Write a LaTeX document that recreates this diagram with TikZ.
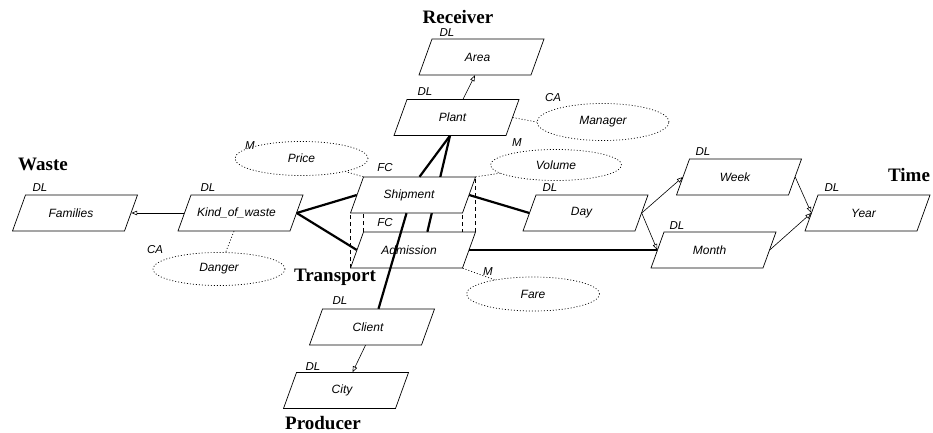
\documentclass[tikz,border=0pt]{standalone}
\usepackage{fontspec}
\setmainfont{Liberation Serif}
\setsansfont{Liberation Sans}
\usetikzlibrary{shapes.geometric,arrows.meta,calc}
\pgfdeclarelayer{bg}
\pgfsetlayers{bg,main}
% parallelogram entity: name, centre, text
\newcommand\mkent[3]{%
  \draw[entborder] ([shift={(-49.5,-18)}]#2) -- ++(112,0) -- ++(-13,36) -- ++(-112,0) -- cycle;
  \node[enttext] (#1) at (#2) {\hspace*{-8pt}#3};}
\begin{document}
\begin{tikzpicture}[x=1pt,y=-1pt,
  entborder/.style={draw=black, fill=white, line width=0.7pt, line join=miter},
  enttext/.style={rectangle, minimum width=112pt, minimum height=36pt, inner sep=0pt,
    font=\sffamily\itshape\fontsize{12}{14}\selectfont},
  attr/.style={ellipse, draw, line width=0.7pt, dash pattern=on 1pt off 2pt,
    minimum height=34pt, inner sep=0pt,
    font=\sffamily\itshape\fontsize{12}{14}\selectfont},
  lab/.style={inner sep=0pt, font=\sffamily\itshape\fontsize{11.5}{13}\selectfont},
  ttl/.style={inner sep=0pt, font=\bfseries\fontsize{19}{22}\selectfont},
  thick line/.style={line width=2.2pt},
  isa/.style={line width=0.6pt, -{Triangle[open,length=6pt,width=4.5pt]}},
  dotline/.style={line width=0.7pt, dash pattern=on 1pt off 2pt},
  prism/.style={line width=0.6pt, dash pattern=on 4pt off 3pt}]
\useasboundingbox (0,0) rectangle (933,433);

% titles
\node[ttl] (tRec) at (458,17) {Receiver};
\node[ttl] (tWaste) at (43,164) {Waste};
\node[ttl] (tTrans) at (335,277) {Transport};
\node[ttl] (tProd) at (323,423) {Producer};
\node[ttl] (tTime) at (909,175) {Time};

% entities
\mkent{Area}{481.5,57}{Area}
\mkent{Plant}{456.5,117.5}{Plant}
\mkent{Families}{75,213}{Families}
\mkent{Kind}{240.5,213}{Kind\_of\_waste}
\mkent{Admission}{413,250}{Admission}
\mkent{Shipment}{413,195}{Shipment}
\mkent{Day}{585.5,213}{Day}
\mkent{Week}{739,177}{Week}
\mkent{Month}{713.5,250}{Month}
\mkent{Year}{867.5,213}{Year}
\mkent{Client}{372,327}{Client}
\mkent{City}{346,390.5}{City}

% attributes
\node[attr, minimum width=133pt] (Price) at (301.5,158.5) {Price};
\node[attr, minimum width=131pt, minimum height=31pt] (Volume) at (556,165) {Volume};
\node[attr, minimum width=132pt, minimum height=37pt] (Manager) at (603,122) {Manager};
\node[attr, minimum width=133pt] (Fare) at (533,294) {Fare};
\node[attr, minimum width=132pt, minimum height=33pt] (Danger) at (219,269) {Danger};

% small labels
\node[lab] (lArea) at (447,33) {DL};
\node[lab] (lPlant) at (425,92) {DL};
\node[lab] (lFam) at (40,188) {DL};
\node[lab] (lKind) at (208,188) {DL};
\node[lab] (lShip) at (385,168) {FC};
\node[lab] (lAdm) at (385,223) {FC};
\node[lab] (lDay) at (550,188) {DL};
\node[lab] (lWeek) at (703,152) {DL};
\node[lab] (lMonth) at (677,226) {DL};
\node[lab] (lYear) at (832,188) {DL};
\node[lab] (lClient) at (340,301) {DL};
\node[lab] (lCity) at (313,367) {DL};
\node[lab] (lPrice) at (250,146) {M};
\node[lab] (lVol) at (517,143) {M};
\node[lab] (lMan) at (553,98) {CA};
\node[lab] (lDan) at (155,250) {CA};
\node[lab] (lFare) at (488,272) {M};

% corner/side points of the parallelograms (slant 13pt)
\coordinate (shipTL) at ([xshift=6.5pt]Shipment.north west);
\coordinate (shipTR) at ([xshift=6.5pt]Shipment.north east);
\coordinate (shipBL) at ([xshift=-6.5pt]Shipment.south west);
\coordinate (shipBR) at ([xshift=-6.5pt]Shipment.south east);
\coordinate (admTL) at ([xshift=6.5pt]Admission.north west);
\coordinate (admTR) at ([xshift=6.5pt]Admission.north east);
\coordinate (admBL) at ([xshift=-6.5pt]Admission.south west);
\coordinate (admBR) at ([xshift=-6.5pt]Admission.south east);

% background: prism edges and line hidden behind Shipment
\begin{pgfonlayer}{bg}
\draw[prism] (admTL) -- (admTL |- shipBL);
\draw[prism] (admBL) -- (shipBL);
\draw[prism] (admTR) -- (shipTR);
\draw[prism] (admBR) -- (shipBR);
\draw[thick line] ([xshift=-6.5pt]Plant.south) -- ($(admTL)!0.57!(admTR)$);
\end{pgfonlayer}

% fact connectors
\draw[thick line] ([xshift=-6.5pt]Plant.south) -- ([xshift=6.5pt]Shipment.north);
\draw[thick line] (Kind.east) -- (Shipment.west);
\draw[thick line] (Kind.east) -- (Admission.west);
\draw[thick line] (Shipment.east) -- (Day.west);
\draw[thick line] (Admission.east) -- (Month.west);
\draw[thick line] ([xshift=6.5pt]Client.north) -- ([xshift=-6.5pt]Shipment.south);

% hierarchy arrows
\draw[isa] (Kind.west) -- (Families.east);
\draw[isa] ([xshift=6.5pt]Plant.north) -- ([xshift=-6.5pt]Area.south);
\draw[isa] ([xshift=-6.5pt]Client.south) -- ([xshift=6.5pt]City.north);
\draw[isa] (Day.east) -- (Week.west);
\draw[isa] (Day.east) -- (Month.west);
\draw[isa] (Week.east) -- (Year.west);
\draw[isa] (Month.east) -- (Year.west);

% attribute links
\draw[dotline] (Plant.east) -- (Manager.west);
\draw[dotline] ([xshift=-6.5pt]Kind.south) -- (Danger);
\draw[dotline] (shipTL) -- (Price);
\draw[dotline] (shipTR) -- (Volume);
\draw[dotline] (admBR) -- (Fare);
\end{tikzpicture}
\end{document}
